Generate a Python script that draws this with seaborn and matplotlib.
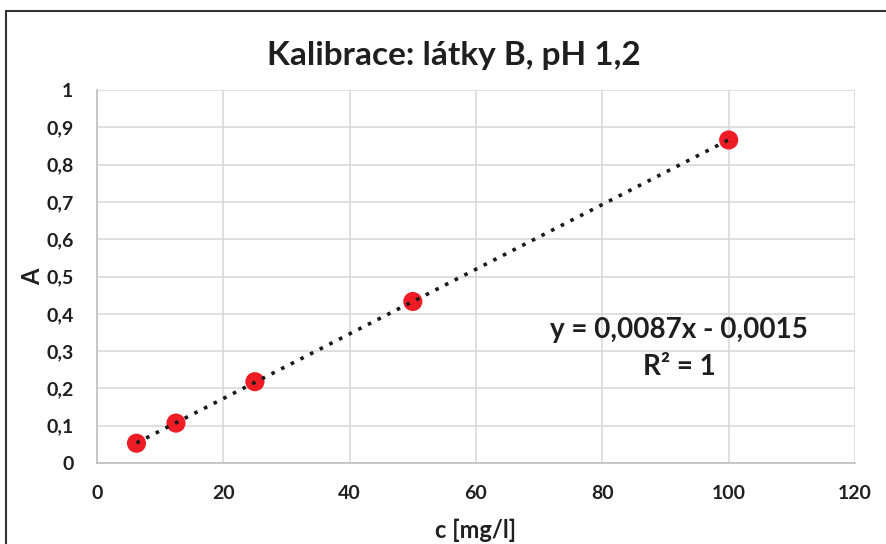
import matplotlib
matplotlib.use("Agg")
import matplotlib.pyplot as plt
import seaborn as sns
import pandas as pd
import numpy as np
from matplotlib.patches import Rectangle

conc = [6.25, 12.5, 25, 50, 100]
absorb = [0.053, 0.107, 0.218, 0.433, 0.866]
x_ticks = [0, 20, 40, 60, 80, 100, 120]
y_ticks = [0, 0.1, 0.2, 0.3, 0.4, 0.5, 0.6, 0.7, 0.8, 0.9, 1.0]
y_tick_labels = ["0", "0,1", "0,2", "0,3", "0,4", "0,5", "0,6", "0,7", "0,8", "0,9", "1"]
title = "Kalibrace: látky B, pH 1,2"
eq_text = "y = 0,0087x - 0,0015"
r2_text = "R² = 1"

sns.set_style("white")
plt.rcParams['font.family'] = ['Lato', 'DejaVu Sans']

df = pd.DataFrame({"c": conc, "A": absorb})

fig = plt.figure(figsize=(8.87, 5.44), dpi=100)
ax = fig.add_axes([97/887, 1-463/544, (855-97)/887, (463-90)/544])

ax.set_axisbelow(True)
ax.grid(True, color="#d9d9d9", linewidth=1.2)
sns.scatterplot(data=df, x="c", y="A", ax=ax, color="#ee1c25", s=190,
                edgecolor="none", zorder=3)
sns.regplot(data=df, x="c", y="A", ax=ax, scatter=False, ci=None,
            line_kws=dict(color="#1a1a1a", linestyle=(0, (1, 2.0)), linewidth=2.6, zorder=4))

ax.set_xlim(0, 120)
ax.set_ylim(0, 1)
ax.set_xticks(x_ticks)
ax.set_xticklabels([str(t) for t in x_ticks], fontsize=14, fontweight="bold", color="#1f1f1f")
ax.set_yticks(y_ticks)
ax.set_yticklabels(y_tick_labels, fontsize=14, fontweight="bold", color="#1f1f1f")
ax.tick_params(axis="x", length=0, pad=16)
ax.tick_params(axis="y", length=0, pad=17)
for s in ["top", "right"]:
    ax.spines[s].set_visible(False)
for s in ["bottom", "left"]:
    ax.spines[s].set_color("#bfbfbf")
    ax.spines[s].set_linewidth(1.2)

ax.set_xlabel("c [mg/l]", fontsize=17, fontweight="bold", labelpad=12, color="#1f1f1f")
ax.set_ylabel("A", fontsize=17, fontweight="bold", labelpad=1, color="#1f1f1f")

fig.text(454/887, 1-56/544, title, ha="center", va="center", fontsize=24,
         fontweight="bold", color="#1f1f1f")
ax.text(0.768, 0.357, eq_text, transform=ax.transAxes, ha="center", va="center",
        fontsize=20, fontweight="bold", color="#1f1f1f")
ax.text(0.768, 0.257, r2_text, transform=ax.transAxes, ha="center", va="center",
        fontsize=20, fontweight="bold", color="#1f1f1f")

fig.patches.append(Rectangle((6/887, -0.1), 1.2, 1-11/544+0.1, transform=fig.transFigure,
                             fill=False, edgecolor="#333333", linewidth=1.5))

fig.savefig("out.png", dpi=100)
